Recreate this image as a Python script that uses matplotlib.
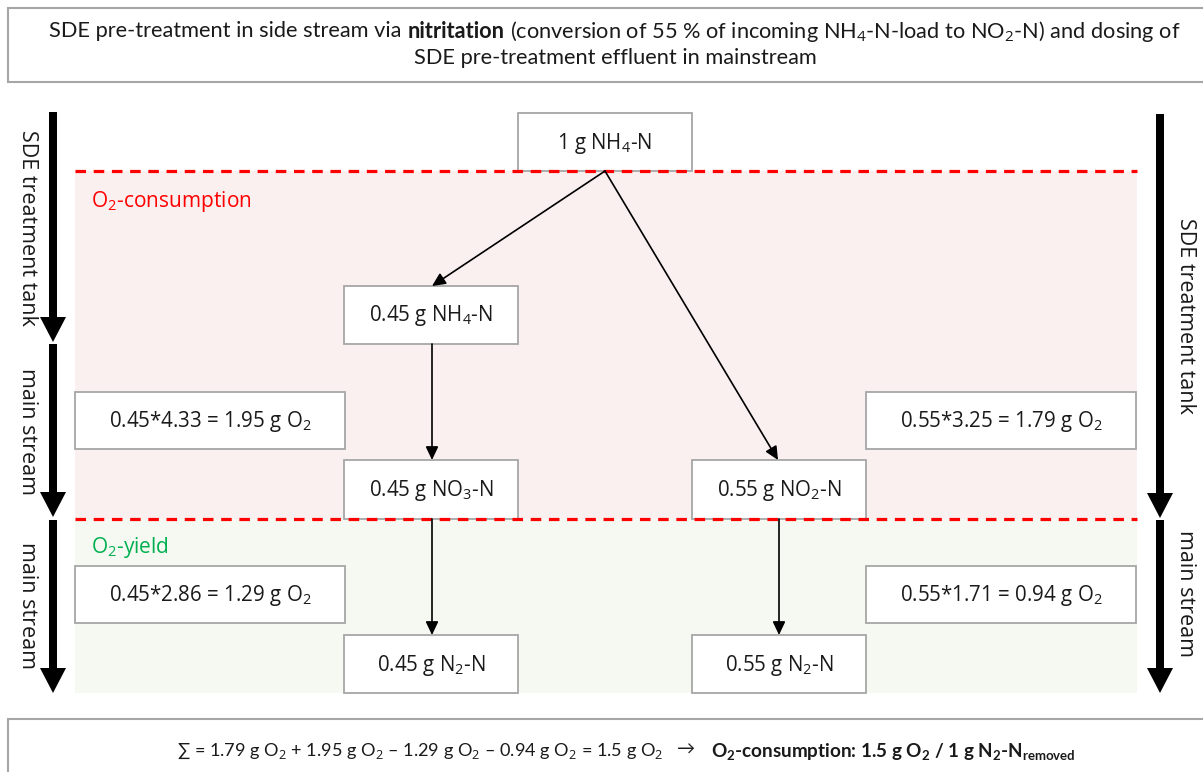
import matplotlib
matplotlib.use("Agg")
import matplotlib.pyplot as plt
from matplotlib.patches import Rectangle, FancyArrow

plt.rcParams['mathtext.fontset'] = 'custom'
plt.rcParams['mathtext.rm'] = 'Open Sans'
plt.rcParams['mathtext.it'] = 'Open Sans:italic'
plt.rcParams['mathtext.bf'] = 'Lato:bold'

# ---------------- data ----------------
incoming_n = "1"
frac_nh4 = "0.45"          # remains NH4 -> nitrified in main stream
frac_no2 = "0.55"          # converted to NO2 in side stream
factor_nitrification = "4.33"
factor_nitritation = "3.25"
factor_denit_no3 = "2.86"
factor_denit_no2 = "1.71"
o2_nitrification = "1.95"
o2_nitritation = "1.79"
o2_denit_no3 = "1.29"
o2_denit_no2 = "0.94"
o2_net = "1.5"
left_stage_labels = ["SDE treatment tank", "main stream", "main stream"]
right_stage_labels = ["SDE treatment tank", "main stream"]
zone_labels = [r"O$_2$-consumption", r"O$_2$-yield"]
title_runs = [
    ("SDE pre-treatment in side stream via", "normal"),
    ("nitritation", "bold"),
    (r"(conversion of 55 % of incoming NH$_4$-N-load to NO$_2$-N) and dosing of", "normal"),
]
title_line2 = "SDE pre-treatment effluent in mainstream"

# ---------------- figure ----------------
W, H = 1203, 772
fig = plt.figure(figsize=(W / 100, H / 100), dpi=100)
ax = fig.add_axes([0, 0, 1, 1])
ax.set_xlim(0, W)
ax.set_ylim(H, 0)
ax.axis('off')

EDGE = '#A6A6A6'
BOXFONT = 'Open Sans'
NARROW = ['Lato', 'DejaVu Sans']
RED = '#FF0000'
GREEN = '#00B050'
TXT = '#1a1a1a'
BOXFS = 14.8

# zones
ax.add_patch(Rectangle((75, 171), 1062, 348, fc='#FBF0F0', ec='none', zorder=0))
ax.add_patch(Rectangle((75, 519), 1062, 174, fc='#F6F9F2', ec='none', zorder=0))


def box(x0, y0, x1, y1, text, fs=BOXFS):
    ax.add_patch(Rectangle((x0, y0), x1 - x0, y1 - y0, fc='white', ec=EDGE, lw=1.3, zorder=2))
    ax.text((x0 + x1) / 2, (y0 + y1) / 2 + 1, text, ha='center', va='center',
            fontsize=fs, family=BOXFONT, color=TXT, zorder=3)


# title & bottom frames
ax.add_patch(Rectangle((8, 8), 1230, 74, fc='white', ec=EDGE, lw=1.5, zorder=2, clip_on=False))
ax.add_patch(Rectangle((8, 719), 1230, 90, fc='white', ec=EDGE, lw=1.5, zorder=2, clip_on=False))

# flow boxes
box(518, 113, 692, 171, incoming_n + r" g NH$_4$-N")
box(344, 286, 518, 344, frac_nh4 + r" g NH$_4$-N")
box(344, 460, 518, 519, frac_nh4 + r" g NO$_3$-N")
box(692, 460, 866, 519, frac_no2 + r" g NO$_2$-N")
box(344, 635, 518, 693, frac_nh4 + r" g N$_2$-N")
box(692, 635, 866, 693, frac_no2 + r" g N$_2$-N")
box(75, 392, 345, 449, frac_nh4 + "*" + factor_nitrification + " = " + o2_nitrification + r" g O$_2$")
box(866, 392, 1136, 449, frac_no2 + "*" + factor_nitritation + " = " + o2_nitritation + r" g O$_2$")
box(75, 566, 345, 623, frac_nh4 + "*" + factor_denit_no3 + " = " + o2_denit_no3 + r" g O$_2$")
box(866, 566, 1136, 623, frac_no2 + "*" + factor_denit_no2 + " = " + o2_denit_no2 + r" g O$_2$")

# dashed boundaries
for yy in (171, 519):
    ax.plot([75, 1137], [yy, yy], color=RED, lw=2.3, ls=(0, (3.3, 2.4)), zorder=4,
            solid_capstyle='butt', dash_capstyle='butt')

# zone labels
ax.text(91, 202, zone_labels[0], color=RED, fontsize=15, family=BOXFONT, va='center', ha='left', zorder=3)
ax.text(91, 548, zone_labels[1], color=GREEN, fontsize=15, family=BOXFONT, va='center', ha='left', zorder=3)

# thin arrows
def thin(p0, p1):
    ax.annotate('', xy=p1, xytext=p0,
                arrowprops=dict(arrowstyle='-|>,head_length=0.8,head_width=0.38', color='black',
                                lw=1.2, shrinkA=0, shrinkB=0, mutation_scale=10), zorder=5)

thin((605, 171), (432, 286))
thin((605, 171), (778, 460))
thin((432, 344), (432, 460))
thin((432, 519), (432, 635))
thin((779, 519), (779, 635))

# thick stage arrows
def thick(x, y0, y1):
    ax.add_patch(FancyArrow(x, y0, 0, y1 - y0, width=8, head_width=26, head_length=25,
                            length_includes_head=True, fc='black', ec='none', zorder=5))

left_spans = [(112, 342), (344, 517), (520, 693)]
right_spans = [(114, 518), (520, 693)]
for a, b in left_spans:
    thick(53, a, b)
for a, b in right_spans:
    thick(1160, a, b)

for lab, yc in zip(left_stage_labels, [228, 431, 605]):
    ax.text(27, yc, lab, rotation=-90, ha='center', va='center', fontsize=15.5, family=BOXFONT, color=TXT)
for lab, yc in zip(right_stage_labels, [316, 593]):
    ax.text(1186, yc, lab, rotation=-90, ha='center', va='center', fontsize=15.5, family=BOXFONT, color=TXT)

# ---------- run-based text placement ----------
fig.canvas.draw()
renderer = fig.canvas.get_renderer()


def width_of(t):
    return t.get_window_extent(renderer).width


def place_runs(runs, x_left=None, x_center=None, y=0, target=None, base=14):
    texts = []
    for s, w in runs:
        t = ax.text(0, y, s, fontsize=base, fontweight=w, family=NARROW, ha='left', va='center',
                    color=TXT, zorder=6)
        texts.append(t)

    def measure(size):
        for t in texts:
            t.set_fontsize(size)
        sp1 = ax.text(0, 0, "x x", fontsize=size, family=NARROW)
        sp2 = ax.text(0, 0, "xx", fontsize=size, family=NARROW)
        space = width_of(sp1) - width_of(sp2)
        sp1.remove(); sp2.remove()
        ws = [width_of(t) for t in texts]
        return ws, space

    size = base
    ws, space = measure(size)
    total = sum(ws) + space * (len(ws) - 1)
    if target:
        size = base * target / total
        ws, space = measure(size)
        total = sum(ws) + space * (len(ws) - 1)
    x = x_left if x_left is not None else x_center - total / 2
    for t, w in zip(texts, ws):
        t.set_x(x)
        x += w + space
    return size


def fit_text(s, weight, x_left, y, target, base=14):
    t = ax.text(x_left, y, s, fontsize=base, fontweight=weight, family=NARROW, ha='left',
                va='center', color=TXT, zorder=6)
    w = width_of(t)
    t.set_fontsize(base * target / w)
    return t


tsize = place_runs(title_runs, x_center=615, y=31, target=1136, base=14)
ax.text(615, 58, title_line2, fontsize=tsize, family=NARROW, ha='center', va='center', color=TXT, zorder=6)

ndash = "\u2013"
bottom_normal = ("\u2211 = " + o2_nitritation + r" g O$_2$ + " + o2_nitrification + r" g O$_2$ " + ndash + " "
                 + o2_denit_no3 + r" g O$_2$ " + ndash + " " + o2_denit_no2 + r" g O$_2$ = " + o2_net
                 + r" g O$_2$")
bottom_bold = (r"O$_\mathbf{2}$-consumption: " + o2_net + r" g O$_\mathbf{2}$ / " + incoming_n
               + r" g N$_\mathbf{2}$-N$_\mathbf{removed}$")
t1 = fit_text(bottom_normal, 'normal', 177, 751, 488)
ax.text(686, 750, "\u2192", fontsize=t1.get_fontsize(), family=NARROW, ha='center', va='center',
        color=TXT, zorder=6)
ax.text(711, 751, bottom_bold, fontsize=t1.get_fontsize() * 1.04, fontweight='bold', family=NARROW,
        ha='left', va='center', color=TXT, zorder=6)

fig.savefig("out.png", dpi=100, facecolor='white')
